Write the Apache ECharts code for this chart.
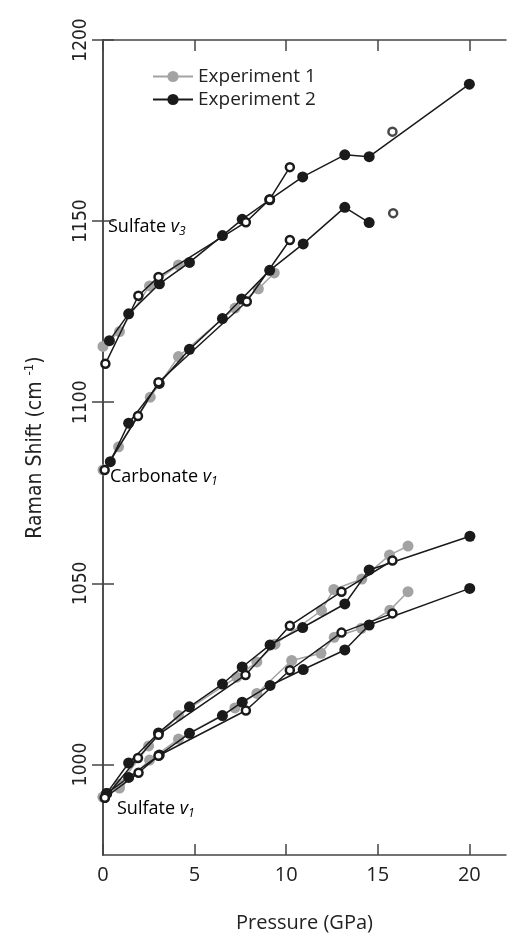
<!DOCTYPE html>
<html>
<head>
<meta charset="utf-8">
<script src="https://cdn.jsdelivr.net/npm/echarts@6/dist/echarts.min.js"></script>
<style>
  html, body { margin: 0; padding: 0; background: #fff; }
  #main { width: 507px; height: 935px; }
</style>
</head>
<body>
<div id="main"></div>
<script>
var myChart = echarts.init(document.getElementById('main'));

// pressure (GPa), Raman shift (cm-1)
var sulfate3Exp1 = [[0, 1115.4], [0.9, 1119.5], [2.54, 1132.1], [4.12, 1137.9]];
var sulfate3Exp2 = [[0.35, 1117.0], [1.4, 1124.4], [3.08, 1132.7], [4.72, 1138.6], [6.52, 1146.0], [7.6, 1150.5],
    [9.1, 1155.9], [10.9, 1162.2], [13.2, 1168.3], [14.53, 1167.8], [20, 1187.8]];
var sulfate3Open = [[0.13, 1110.6], [1.93, 1129.4], [3.03, 1134.6], [7.8, 1149.7], [9.1, 1156], [10.2, 1164.9]];

var carbonateExp1 = [[0, 1081.3], [0.85, 1087.7], [2.58, 1101.4], [4.12, 1112.6], [7.21, 1126.0], [8.48, 1131.3], [9.35, 1135.7]];
var carbonateExp2 = [[0.4, 1083.6], [1.4, 1094.2], [3.07, 1105.2], [4.72, 1114.6], [6.52, 1123.1], [7.57, 1128.5],
    [9.1, 1136.4], [10.93, 1143.7], [13.2, 1153.8], [14.53, 1149.6]];
var carbonateOpen = [[0.09, 1081.3], [1.91, 1096.2], [3.03, 1105.5], [7.85, 1127.8], [10.2, 1144.8]];

var sulfate1aExp1 = [[0, 991], [0.9, 994.5], [2.49, 1005.1], [4.12, 1013.5], [7.3, 1024.1], [8.4, 1028.3], [9.39, 1033.2],
    [11.93, 1042.5], [12.6, 1048.3], [14.13, 1051.2], [15.64, 1057.8], [16.65, 1060.3]];
var sulfate1aExp2 = [[0.2, 992], [1.4, 1000.4], [3.03, 1008.7], [4.72, 1015.9], [6.52, 1022.2], [7.6, 1026.9],
    [9.12, 1033], [10.9, 1037.8], [13.2, 1044.3], [14.53, 1053.7], [20.03, 1063.0]];
var sulfate1aOpen = [[0.1, 990.8], [1.91, 1001.8], [3.03, 1008.2], [7.78, 1024.7], [10.2, 1038.3], [13.02, 1047.7], [15.8, 1056.3]];

var sulfate1bExp1 = [[0, 991], [0.9, 993.5], [2.54, 1001.2], [4.12, 1007], [7.2, 1015.6], [8.4, 1019.6], [10.3, 1028.7],
    [11.9, 1030.7], [12.62, 1035.1], [14.11, 1037.6], [15.66, 1042.6], [16.65, 1047.7]];
var sulfate1bExp2 = [[0.2, 992], [1.4, 996.4], [3.07, 1002.6], [4.72, 1008.6], [6.52, 1013.5], [7.6, 1017.2],
    [9.12, 1021.8], [10.93, 1026.2], [13.2, 1031.6], [14.53, 1038.5], [20.02, 1048.6]];
var sulfate1bOpen = [[0.1, 990.8], [1.94, 997.7], [3.03, 1002.4], [7.8, 1014.9], [10.2, 1026], [13.02, 1036.4], [15.8, 1041.7]];

var extraOpen = [[15.8, 1174.7], [15.84, 1152.2]];

var yTicks = [1000, 1050, 1100, 1150, 1200];
var xTicks = [0, 5, 10, 15, 20];

var FONT = "'Open Sans', 'DejaVu Sans', sans-serif";
var NARROW = "'Liberation Sans Narrow', 'DejaVu Sans Condensed', sans-serif";

function exp1(data) {
    return {
        name: 'Experiment 1', type: 'line', data: data, z: 2,
        symbol: 'circle', symbolSize: 11,
        itemStyle: { color: '#a3a3a3' },
        lineStyle: { color: '#a3a3a3', width: 1.5 }
    };
}
function exp2(data) {
    return {
        name: 'Experiment 2', type: 'line', data: data, z: 3,
        symbol: 'circle', symbolSize: 11,
        itemStyle: { color: '#1a1a1a' },
        lineStyle: { color: '#1a1a1a', width: 1.5 }
    };
}
function open(data, type) {
    return {
        name: 'open', type: type || 'line', data: data, z: 4,
        symbol: 'circle', symbolSize: 8,
        itemStyle: { color: '#fff', borderColor: '#1a1a1a', borderWidth: 2.5 },
        lineStyle: { color: '#1a1a1a', width: 1.5 }
    };
}

var axisLine = { show: true, lineStyle: { color: '#444', width: 1.5 } };
var tick = { show: true, inside: true, length: 11, lineStyle: { color: '#444', width: 1.5 } };

function label(txt, sub) {
    return '{n|' + txt + ' }{v|v}{s|' + sub + '}';
}
var labelRich = {
    n: { fontFamily: FONT, fontSize: 18, color: '#222' },
    v: { fontFamily: FONT, fontSize: 18, fontStyle: 'italic', color: '#222' },
    s: { fontFamily: FONT, fontSize: 12, fontStyle: 'italic', color: '#222', padding: [10, 0, 0, 0] }
};

var option = {
    animation: false,
    grid: { left: 103, right: 1, top: 40, bottom: 80, outerBoundsMode: 'none', containLabel: false },
    legend: {
        data: ['Experiment 1', 'Experiment 2'],
        orient: 'vertical', left: 147, top: 62,
        itemWidth: 40, itemHeight: 14, itemGap: 4,
        textStyle: { fontFamily: FONT, fontSize: 19, color: '#222' }
    },
    xAxis: [{
        type: 'value', min: 0, max: 22, position: 'bottom',
        axisLine: axisLine, splitLine: { show: false },
        axisTick: Object.assign({ customValues: xTicks }, tick),
        axisLabel: { customValues: xTicks, fontFamily: FONT, fontSize: 20, color: '#222', margin: 10 },
        name: 'Pressure (GPa)', nameLocation: 'middle', nameGap: 58,
        nameTextStyle: { fontFamily: FONT, fontSize: 20, color: '#222' }
    }, {
        type: 'value', min: 0, max: 22, position: 'top',
        axisLine: axisLine, splitLine: { show: false },
        axisTick: Object.assign({ customValues: xTicks }, tick),
        axisLabel: { show: false }
    }],
    yAxis: [{
        type: 'value', min: 975, max: 1200, position: 'left',
        axisLine: axisLine, splitLine: { show: false },
        axisTick: Object.assign({ customValues: yTicks }, tick),
        axisLabel: {
            customValues: yTicks, rotate: 90, margin: 12, fontFamily: NARROW, fontSize: 19, color: '#222',
            formatter: function (v) { return String(v); }
        },
        name: '{n|Raman Shift (cm }{s|-1}{n|)}', nameLocation: 'middle', nameGap: 54,
        nameTextStyle: {
            rich: {
                n: { fontFamily: NARROW, fontSize: 21, color: '#222', lineHeight: 26 },
                s: { fontFamily: NARROW, fontSize: 13, color: '#222', verticalAlign: 'top', lineHeight: 26 }
            }
        }
    }, {
        type: 'value', min: 975, max: 1200, position: 'right',
        axisLine: axisLine, splitLine: { show: false },
        axisTick: Object.assign({ customValues: yTicks }, tick),
        axisLabel: { show: false }
    }],
    graphic: [
        { type: 'text', left: 108, top: 218, style: { text: label('Sulfate', '3'), rich: labelRich } },
        { type: 'text', left: 110, top: 468, style: { text: label('Carbonate', '1'), rich: labelRich } },
        { type: 'text', left: 117, top: 800, style: { text: label('Sulfate', '1'), rich: labelRich } }
    ],
    series: [
        exp1(sulfate3Exp1), exp1(carbonateExp1), exp1(sulfate1aExp1), exp1(sulfate1bExp1),
        exp2(sulfate3Exp2), exp2(carbonateExp2), exp2(sulfate1aExp2), exp2(sulfate1bExp2),
        open(sulfate3Open), open(carbonateOpen), open(sulfate1aOpen), open(sulfate1bOpen),
        open(extraOpen, 'scatter')
    ]
};
myChart.setOption(option);
</script>
</body>
</html>
